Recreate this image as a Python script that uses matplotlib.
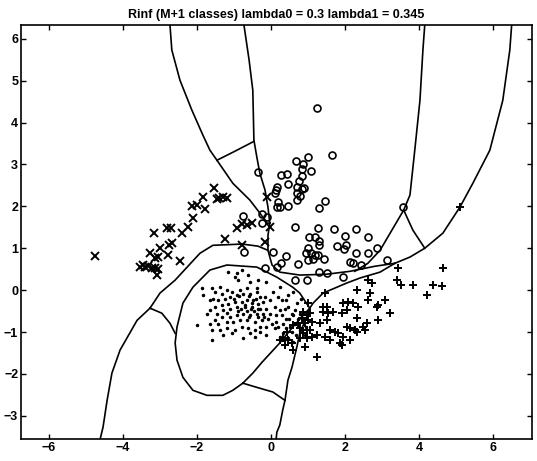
import numpy as np
import matplotlib
matplotlib.use("Agg")
import matplotlib.pyplot as plt

plt.rcParams["font.family"] = ["Liberation Sans", "DejaVu Sans"]

title = "Rinf (M+1 classes) lambda0 = 0.3 lambda1 = 0.345"
xlim = (-6.76, 7.05)
ylim = (-3.56, 6.33)
xticks = [-6, -4, -2, 0, 2, 4, 6]
yticks = [-3, -2, -1, 0, 1, 2, 3, 4, 5, 6]

# class 1 (x markers)
cross_x = [-4.76, -3.27, -3.54, -3.46, -3.41, -3.32, -3.22, -3.14, -3.05, -3.08,
           -3.16, -3.14, -3.05, -3.00, -2.78, -2.76, -2.68, -2.46, -2.81, -2.70,
           -2.41, -2.24, -2.11, -2.14, -2.00, -1.78, -1.84, -1.54, -1.46, -1.41,
           -1.30, -1.19, -1.24, -0.92, -0.78, -0.65, -0.51, -0.11, -0.03, -0.16,
           -0.78]
cross_y = [0.81, 0.88, 0.55, 0.60, 0.55, 0.57, 0.53, 0.53, 0.50, 0.36,
           1.36, 0.76, 0.79, 1.00, 0.84, 1.07, 1.12, 0.69, 1.48, 1.48,
           1.36, 1.50, 1.72, 2.00, 2.03, 1.93, 2.22, 2.43, 2.17, 2.20,
           2.22, 2.20, 1.22, 1.48, 1.58, 1.55, 1.60, 2.22, 1.50, 1.15,
           1.07]

# class 2 (o markers)
circ_x = [1.24, 1.65, 1.00, 0.68, 0.86, -0.35, 0.84, 1.08, 0.27, 0.43,
          0.84, 0.46, 0.16, 0.14, 0.76, 0.70, 0.84, 0.89, 0.70, 0.78,
          0.70, 0.11, 0.19, 0.16, 0.24, 0.46, 1.46, 1.30, -0.76, -0.24,
          -0.11, -0.24, 0.65, 1.27, 1.70, 2.30, 2.00, 2.62, 1.03, 1.19,
          1.30, 1.30, 1.78, 2.03, 1.97, 1.00, 0.95, 1.08, 1.19, 1.27,
          1.43, 1.14, 1.00, 2.30, 2.62, 2.86, 3.14, 2.14, 2.22, 2.43,
          0.05, 0.41, -0.73, -0.16, 0.16, 0.27, 0.73, 0.65, 0.97, 1.30,
          1.51, 1.95, 3.57]
circ_y = [4.34, 3.22, 3.17, 3.08, 3.01, 2.82, 2.89, 2.84, 2.74, 2.77,
          2.72, 2.53, 2.46, 2.39, 2.60, 2.46, 2.41, 2.43, 2.32, 2.24,
          2.15, 2.32, 2.10, 1.98, 1.98, 2.00, 2.12, 1.96, 1.77, 1.81,
          1.74, 1.60, 1.50, 1.48, 1.46, 1.46, 1.29, 1.26, 1.26, 1.26,
          1.17, 1.07, 1.05, 1.07, 0.98, 1.00, 0.88, 0.88, 0.84, 0.84,
          0.74, 0.74, 0.72, 0.88, 0.88, 1.00, 0.72, 0.67, 0.64, 0.60,
          0.91, 0.81, 0.91, 0.53, 0.55, 0.64, 0.62, 0.24, 0.24, 0.43,
          0.41, 0.31, 1.98]

# class 3 (+ markers)
plus_x = [3.43, 5.11, 4.65, 3.41, 3.51, 3.84, 4.38, 4.62, 4.22, 1.00,
          1.46, 1.41, 1.51, 1.41, 1.54, 1.68, 1.95, 2.08, 2.22, 2.35,
          1.92, 2.05, 2.32, 2.62, 2.73, 2.68, 2.62, 2.86, 0.86, 0.97,
          1.05, 0.84, 1.00, 1.11, 0.92, 0.73, 0.59, 0.78, 0.97, 1.05,
          1.32, 1.51, 1.59, 1.73, 1.81, 2.05, 2.14, 2.27, 2.49, 1.46,
          1.59, 1.24, 1.95, 1.92, 2.32, 0.86, 0.78, 0.97, 1.11, 0.43,
          0.32, 0.46, 0.24, 0.38, 0.57, 0.59, 0.92, 1.24, 1.86, 2.32,
          2.59, 2.89, 3.08, 3.22, 2.89, 2.54, 2.14]
plus_y = [0.53, 1.98, 0.53, 0.24, 0.12, 0.12, 0.12, 0.10, -0.12, -0.31,
          -0.07, -0.41, -0.41, -0.53, -0.55, -0.53, -0.31, -0.29, -0.31, -0.41,
          -0.55, -0.48, 0.00, 0.24, 0.17, -0.07, -0.24, -0.41, -0.53, -0.60,
          -0.55, -0.67, -0.72, -0.76, -0.79, -0.79, -0.84, -0.91, -0.95, -0.95,
          -0.79, -0.72, -0.95, -1.00, -1.03, -0.88, -0.91, -0.95, -0.88, -1.12,
          -1.19, -1.07, -1.12, -1.31, -0.67, -1.03, -1.15, -1.15, -1.12, -1.00,
          -1.15, -1.19, -1.19, -1.31, -1.26, -1.43, -1.36, -1.60, -1.26, -1.00,
          -0.79, -0.36, -0.24, -0.55, -0.72, -0.95, -1.19]

# class 4 (dots)
dot_x = [-1.15, -0.97, -0.88, -0.57, -0.39, -0.66, -0.84, -1.06, -1.20, -1.33,
         -1.51, -1.60, -1.87, -1.83, -1.56, -1.42, -1.24, -1.11, -0.93, -0.75,
         -0.57, -0.39, -0.30, -0.16, -0.03, 0.06, 0.20, 0.29, -0.21, -0.34,
         -0.48, -0.66, -0.79, -0.97, -1.15, -1.33, -1.51, -1.65, -1.47, -1.29,
         -1.11, -0.93, -0.70, -0.52, -0.34, -0.12, 0.11, 0.24, 0.38, 0.47,
         0.56, 0.42, 0.15, -0.03, -0.21, -0.39, -0.57, -0.75, -0.93, -1.11,
         -1.33, -1.51, -1.65, -1.42, -1.20, -1.02, -0.84, -0.66, -0.43, -0.25,
         -0.07, 0.15, 0.33, 0.51, 0.65, 0.74, 0.87, 0.78, 0.69, 0.56,
         0.33, 0.11, -0.12, -0.30, -0.43, -0.61, -0.79, -0.97, -1.20, -1.38,
         -1.60, -2.01, -1.60, -0.75, -0.43, -0.12, 0.47, 0.60, 0.78, 0.65,
         0.42, 0.47, 0.60, 0.24, -0.12, -0.34, -0.61, -0.79, -0.93, -1.38,
         -1.65, -1.74, -1.29, -1.06, -0.57, -0.30, 0.02, 0.20, 0.24, 0.96,
         0.92, -0.60, -0.50, -0.70, -0.45, -0.55, -0.65, -0.80, -0.40, -0.30,
         -0.20, -0.90, -1.00, -0.85, -0.60, -0.35, -1.20, 0.30, 0.40, 0.50,
         0.70, 0.80, 0.60]
dot_y = [0.44, 0.32, 0.24, 0.20, 0.04, 0.04, 0.00, -0.04, 0.00, -0.08,
         -0.04, 0.04, 0.04, -0.12, -0.20, -0.24, -0.20, -0.16, -0.12, -0.08,
         -0.08, -0.04, -0.16, -0.16, -0.24, -0.04, -0.16, -0.24, -0.28, -0.32,
         -0.24, -0.24, -0.28, -0.28, -0.32, -0.36, -0.40, -0.48, -0.56, -0.48,
         -0.44, -0.40, -0.40, -0.40, -0.44, -0.44, -0.40, -0.48, -0.44, -0.40,
         -0.56, -0.68, -0.60, -0.56, -0.56, -0.56, -0.60, -0.56, -0.60, -0.64,
         -0.64, -0.72, -0.80, -0.80, -0.76, -0.76, -0.72, -0.72, -0.76, -0.72,
         -0.68, -0.76, -0.80, -0.88, -0.80, -0.68, -0.72, -0.95, -1.07, -0.99,
         -1.03, -0.91, -0.88, -0.88, -0.95, -0.91, -0.88, -0.95, -0.91, -0.95,
         -0.95, -0.84, -1.19, -1.15, -1.11, -1.07, -1.15, -1.23, -0.56, -0.48,
         -0.24, -0.12, -0.04, 0.08, 0.20, 0.24, 0.36, 0.48, 0.40, 0.08,
         -0.24, -0.56, -1.07, -1.03, -1.03, -0.99, -0.80, -0.88, -1.11, -0.88,
         -1.07, -0.15, -0.30, -0.35, -0.50, -0.45, -0.50, -0.45, -0.20, -0.45,
         -0.65, -0.50, -0.20, -0.15, -0.65, -0.65, -0.55, -0.60, -0.90, -0.70,
         -0.30, -0.20, -0.60]

# decision boundary polylines (data coordinates)
bound_top_left_x = [-2.73, -2.68, -2.46, -2.14, -1.84, -1.65, -1.46, -1.03, -0.57, -0.30, -0.11, -0.03]
bound_top_left_y = [6.33, 5.73, 5.01, 4.30, 3.70, 3.34, 3.10, 2.55, 2.15, 1.84, 1.60, 1.60]
bound_short_x = [-1.46, -1.03, -0.46]
bound_short_y = [3.10, 3.29, 3.55]
bound_vert_x = [-0.73, -0.59, -0.49, -0.46, -0.38, -0.30, -0.16, -0.08, -0.03]
bound_vert_y = [6.33, 5.49, 4.77, 3.58, 3.17, 2.79, 2.39, 1.98, 1.60]
bound_low_x = [-0.03, -0.08, -0.08, 0.03, 0.24, 0.78, 1.51, 2.14, 2.81, 3.35]
bound_low_y = [1.60, 1.31, 0.95, 0.60, 0.43, 0.36, 0.38, 0.45, 0.57, 0.64]
bound_right_x = [3.35, 3.76, 4.16, 4.65, 5.11, 5.46, 5.92, 6.27, 6.46, 6.51]
bound_right_y = [0.64, 0.79, 1.00, 1.36, 1.98, 2.55, 3.34, 4.53, 5.73, 6.33]
bound_a_x = [4.16, 4.11, 4.03, 3.89, 3.76, 3.59, 3.27, 2.95, 2.62, 2.27]
bound_a_y = [6.33, 5.73, 4.53, 3.34, 2.27, 1.91, 1.43, 0.95, 0.64, 0.45]
bound_b_x = [3.59, 3.84, 4.16]
bound_b_y = [1.91, 1.43, 1.00]
bound_plus_x = [3.35, 2.95, 2.41, 2.05, 1.41, 1.14, 1.05, 0.97, 0.78, 0.70, 0.57, 0.46, 0.38, 0.32, 0.24, 0.16, 0.14]
bound_plus_y = [0.64, 0.43, 0.29, 0.17, -0.07, -0.31, -0.43, -0.64, -1.03, -1.36, -1.84, -2.15, -2.63, -2.86, -3.22, -3.39, -3.56]
bound_loop_x = [1.05, 0.78, 0.59, 0.16, -0.38, -1.19, -1.65, -2.11, -2.38, -2.54, -2.59, -2.54, -2.38, -2.11, -1.73, -1.30, -1.03, -0.76]
bound_loop_y = [-0.43, -0.07, 0.07, 0.31, 0.55, 0.60, 0.48, 0.07, -0.31, -0.88, -1.26, -1.67, -2.08, -2.39, -2.51, -2.51, -2.39, -2.22]
bound_loop_r_x = [-0.76, -0.49, -0.24, 0.24, 0.59, 1.05]
bound_loop_r_y = [-2.22, -1.98, -1.72, -1.26, -0.88, -0.43]
bound_join_x = [-0.76, -0.38, 0.05, 0.38]
bound_join_y = [-2.22, -2.32, -2.43, -2.63]
bound_left_x = [-3.27, -3.62, -4.08, -4.30, -4.43, -4.54, -4.62]
bound_left_y = [-0.43, -0.72, -1.43, -1.98, -2.63, -3.27, -3.56]
bound_mid_x = [-3.27, -2.95, -2.73, -2.59]
bound_mid_y = [-0.43, -0.55, -0.79, -1.03]
bound_h_x = [-3.27, -3.00, -2.59, -1.92, -1.57, -0.78, -0.35, -0.08]
bound_h_y = [-0.43, -0.07, 0.24, 0.88, 1.07, 1.10, 1.05, 0.95]

boundaries = [
    (bound_top_left_x, bound_top_left_y), (bound_short_x, bound_short_y),
    (bound_vert_x, bound_vert_y), (bound_low_x, bound_low_y),
    (bound_right_x, bound_right_y), (bound_a_x, bound_a_y),
    (bound_b_x, bound_b_y), (bound_plus_x, bound_plus_y),
    (bound_loop_x, bound_loop_y), (bound_loop_r_x, bound_loop_r_y),
    (bound_join_x, bound_join_y), (bound_left_x, bound_left_y),
    (bound_mid_x, bound_mid_y), (bound_h_x, bound_h_y),
]

fig = plt.figure(figsize=(5.37, 4.61), dpi=100)
ax = fig.add_axes([0.039, 0.047, 0.951, 0.899])

for bx, by in boundaries:
    ax.plot(bx, by, "k-", linewidth=1.2)

ax.plot(dot_x, dot_y, "k.", markersize=3)
ax.plot(cross_x, cross_y, "kx", markersize=5.5, markeredgewidth=1.4)
ax.plot(circ_x, circ_y, "ko", markersize=5, markerfacecolor="none", markeredgewidth=1.2)
ax.plot(plus_x, plus_y, "k+", markersize=6, markeredgewidth=1.4)

ax.set_xlim(xlim)
ax.set_ylim(ylim)
ax.set_xticks(xticks)
ax.set_yticks(yticks)
ax.tick_params(direction="in", top=True, right=True, length=3.5, width=1,
               labelsize=9, pad=2)
for lab in ax.get_xticklabels() + ax.get_yticklabels():
    lab.set_fontweight("bold")
for sp in ax.spines.values():
    sp.set_linewidth(1.2)
ax.set_title(title, fontsize=9, fontweight="bold", pad=5)

fig.savefig("out.png", dpi=100)
